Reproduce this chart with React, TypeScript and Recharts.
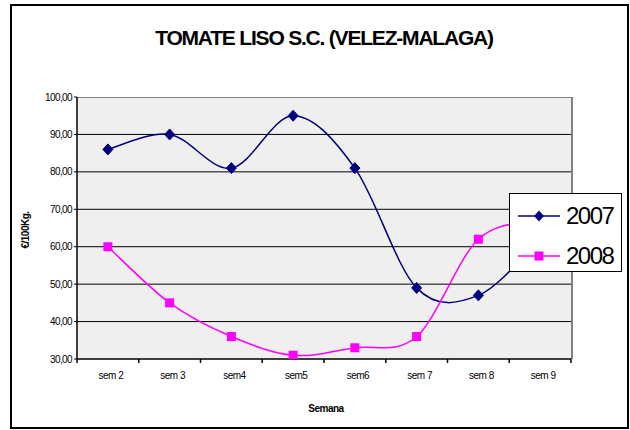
import { LineChart, Line, XAxis, YAxis, CartesianGrid, Legend } from "recharts";

const weeks = ["sem 2", "sem 3", "sem4", "sem5", "sem6", "sem 7", "sem 8", "sem 9"];
const prices2007 = [86, 90, 81, 95, 81, 49, 47, 62];
const prices2008 = [60, 45, 36, 31, 33, 36, 62, 67];
const yTicks = [30, 40, 50, 60, 70, 80, 90, 100];
const gridValues = [40, 50, 60, 70, 80, 90];

const NAVY = "#000080";
const MAGENTA = "#ff00ff";
const FONT = "'Liberation Sans', Arial, sans-serif";

// plot area box (px)
const PLOT_L = 77;
const PLOT_T = 97;
const PLOT_R = 571;
const PLOT_B = 359;
const BAND = (PLOT_R - PLOT_L) / weeks.length;

// Excel-like smoothed line (Catmull-Rom)
const smoothCurve = (context: any) => {
  let pts: [number, number][] = [];
  return {
    areaStart() {},
    areaEnd() {},
    lineStart() {
      pts = [];
    },
    point(x: number, y: number) {
      pts.push([+x, +y]);
    },
    lineEnd() {
      if (!pts.length) return;
      context.moveTo(pts[0][0], pts[0][1]);
      for (let i = 0; i < pts.length - 1; i++) {
        const p0 = pts[i - 1] || pts[i];
        const p1 = pts[i];
        const p2 = pts[i + 1];
        const p3 = pts[i + 2] || p2;
        context.bezierCurveTo(
          p1[0] + (p2[0] - p0[0]) / 6, p1[1] + (p2[1] - p0[1]) / 6,
          p2[0] - (p3[0] - p1[0]) / 6, p2[1] - (p3[1] - p1[1]) / 6,
          p2[0], p2[1]
        );
      }
    },
  };
};

const data = weeks.map((w, i) => ({ week: w, y2007: prices2007[i], y2008: prices2008[i] }));

const Diamond = ({ cx, cy }: any) => (
  <path d={`M${cx},${cy - 5.5}L${cx + 5},${cy}L${cx},${cy + 5.5}L${cx - 5},${cy}Z`} fill={NAVY} stroke={NAVY} />
);

const Square = ({ cx, cy }: any) => (
  <rect x={cx - 4.5} y={cy - 4.5} width={9} height={9} fill={MAGENTA} />
);

const XTick = ({ x, payload, index }: any) => {
  const left = x - BAND / 2;
  return (
    <g>
      <line x1={left} x2={left} y1={PLOT_B} y2={PLOT_B + 4} stroke="#000" strokeWidth={1.5} />
      {index === weeks.length - 1 && (
        <line x1={x + BAND / 2} x2={x + BAND / 2} y1={PLOT_B} y2={PLOT_B + 4} stroke="#000" strokeWidth={1.5} />
      )}
      <text x={x + 3} y={PLOT_B + 20} textAnchor="middle" fontSize={10} fill="#000" fontFamily={FONT} letterSpacing={-0.5}>
        {payload.value}
      </text>
    </g>
  );
};

const LegendBox = () => {
  const rows = [
    { label: "2007", color: NAVY, shape: "diamond" },
    { label: "2008", color: MAGENTA, shape: "square" },
  ];
  return (
    <div
      style={{
        width: 113,
        height: 79,
        boxSizing: "border-box",
        border: "1.5px solid #000",
        background: "#fff",
        paddingTop: 6,
        fontFamily: FONT,
      }}
    >
      {rows.map((r) => (
        <div key={r.label} style={{ display: "flex", alignItems: "center", height: 32, marginTop: r.label === "2008" ? 8 : 0 }}>
          <svg width={50} height={20} style={{ marginLeft: 6 }}>
            <line x1={2} x2={44} y1={10} y2={10} stroke={r.color} strokeWidth={1.5} />
            {r.shape === "diamond" ? (
              <path d="M23,4.5L28,10L23,15.5L18,10Z" fill={r.color} />
            ) : (
              <rect x={18.5} y={5.5} width={9} height={9} fill={r.color} />
            )}
          </svg>
          <span style={{ fontSize: 24, letterSpacing: -1.5, color: "#000", lineHeight: 1 }}>{r.label}</span>
        </div>
      ))}
    </div>
  );
};

export default function App() {
  return (
    <div style={{ position: "absolute", left: 0, top: 0, width: 630, height: 430, background: "#fff", fontFamily: FONT }}>
      {/* outer frame */}
      <div
        style={{
          position: "absolute",
          left: 10,
          top: 4,
          width: 619,
          height: 425,
          boxSizing: "border-box",
          border: "2px solid #000",
        }}
      />
      {/* plot area background */}
      <div
        style={{
          position: "absolute",
          left: PLOT_L,
          top: PLOT_T,
          width: PLOT_R - PLOT_L + 2,
          height: PLOT_B - PLOT_T,
          boxSizing: "border-box",
          background: "#efefef",
          borderTop: "1.5px solid #808080",
          borderRight: "2px solid #808080",
        }}
      />
      <div
        style={{
          position: "absolute",
          left: 0,
          top: 26,
          width: 648,
          textAlign: "center",
          fontSize: 21,
          fontWeight: "bold",
          letterSpacing: -1.2,
          color: "#000",
        }}
      >
        TOMATE LISO S.C. (VELEZ-MALAGA)
      </div>
      <div
        style={{
          position: "absolute",
          left: 0,
          top: 403,
          width: 652,
          textAlign: "center",
          fontSize: 10,
          fontWeight: "bold",
          letterSpacing: -0.5,
          color: "#000",
        }}
      >
        Semana
      </div>
      <div
        style={{
          position: "absolute",
          left: 25,
          top: 230,
          transform: "translate(-50%, -50%) rotate(-90deg)",
          fontSize: 10,
          fontWeight: "bold",
          letterSpacing: -0.5,
          whiteSpace: "nowrap",
          color: "#000",
        }}
      >
        €/100Kg.
      </div>
      <div style={{ position: "absolute", left: 0, top: 0 }}>
        <LineChart
          width={630}
          height={430}
          data={data}
          margin={{ top: PLOT_T, right: 630 - PLOT_R, bottom: 430 - PLOT_B - 30, left: 0 }}
        >
          <CartesianGrid vertical={false} horizontalValues={gridValues} stroke="#000" strokeWidth={1} />
          <XAxis
            dataKey="week"
            height={30}
            tick={<XTick />}
            tickLine={false}
            axisLine={{ stroke: "#000", strokeWidth: 1.5 }}
            interval={0}
            padding={{ left: BAND / 2, right: BAND / 2 }}
          />
          <YAxis
            width={PLOT_L}
            domain={[30, 100]}
            ticks={yTicks}
            tickSize={3}
            tickMargin={2}
            tickLine={{ stroke: "#000" }}
            axisLine={{ stroke: "#000", strokeWidth: 1.5 }}
            tickFormatter={(v: number) => v.toFixed(2).replace(".", ",")}
            tick={{ fontSize: 10, fill: "#000", fontFamily: FONT, letterSpacing: -0.6 }}
            allowDataOverflow
          />
          <Legend
            layout="vertical"
            align="center"
            verticalAlign="middle"
            content={<LegendBox />}
            wrapperStyle={{ left: 509, top: 193, width: 113, height: 79 }}
          />
          <Line
            dataKey="y2007"
            name="2007"
            type={smoothCurve as any}
            stroke={NAVY}
            strokeWidth={1.5}
            dot={<Diamond />}
            isAnimationActive={false}
          />
          <Line
            dataKey="y2008"
            name="2008"
            type={smoothCurve as any}
            stroke={MAGENTA}
            strokeWidth={1.5}
            dot={<Square />}
            isAnimationActive={false}
          />
        </LineChart>
      </div>
    </div>
  );
}
